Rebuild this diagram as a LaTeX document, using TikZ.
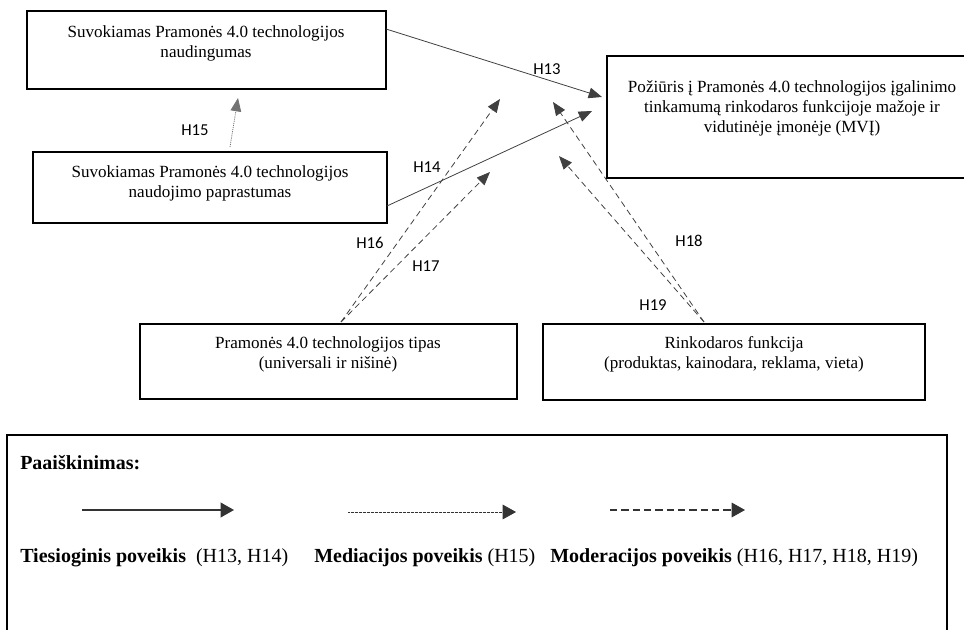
\documentclass[tikz,border=0pt]{standalone}
\usepackage{fontspec}
\setmainfont{Liberation Serif}
\newfontfamily\labelfont{Carlito}
\usetikzlibrary{arrows.meta,fit}
\begin{document}
\begin{tikzpicture}[x=0.75pt,y=-0.75pt,
  box/.style={draw=black, line width=1.1pt, inner sep=0pt},
  boxtext/.style={anchor=north, align=center, inner sep=0pt,
    font=\fontsize{12.8}{15.2}\selectfont},
  hlabel/.style={font=\labelfont\fontsize{12.5}{14}\selectfont, inner sep=0pt},
  tip/.style={-{Triangle[length=10pt,width=8pt]}},
  direct/.style={tip, draw=black!75, line width=0.6pt},
  mediate/.style={tip, draw=black!55, line width=0.6pt, dash pattern=on 0.8pt off 0.8pt},
  moderate/.style={tip, draw=black!75, line width=0.6pt, dash pattern=on 4.5pt off 3pt},
  keytip/.style={-{Triangle[length=10pt,width=11pt]}},
  legtext/.style={anchor=base west, inner sep=0pt, font=\fontsize{15}{17}\selectfont}]
\useasboundingbox (0,0) rectangle (964,630);
\clip (0,0) rectangle (964,630);

% construct boxes
\node[box, fit={(27,11) (386,89)}] (b1) {};
\node[box, fit={(33,152) (387,223)}] (b2) {};
\node[box, fit={(607,56) (980,178)}] (b3) {};
\node[box, fit={(140,324) (517,399)}] (b4) {};
\node[box, fit={(543,324) (925,400)}] (b5) {};

\node[boxtext] (t1) at (206,25) {Suvokiamas Pramonės 4.0 technologijos\\naudingumas};
\node[boxtext] (t2) at (210,165) {Suvokiamas Pramonės 4.0 technologijos\\naudojimo paprastumas};
\node[boxtext] (t3) at (792,80) {Požiūris į Pramonės 4.0 technologijos įgalinimo\\tinkamumą rinkodaros funkcijoje mažoje ir\\vidutinėje įmonėje (MVĮ)};
\node[boxtext] (t4) at (328,336) {Pramonės 4.0 technologijos tipas\\(universali ir nišinė)};
\node[boxtext] (t5) at (734,336) {Rinkodaros funkcija\\(produktas, kainodara, reklama, vieta)};

% connector end points
\coordinate (s13) at (386,29);
\coordinate (e13) at (602,97);
\coordinate (s14) at (387,206);
\coordinate (e14) at (592,111);
\coordinate (s15) at (230,147);
\coordinate (e15) at (238,98);
\coordinate (s16) at (341,322);
\coordinate (e16) at (500,99);
\coordinate (e17) at (490,172);
\coordinate (s18) at (704,322);
\coordinate (e18) at (553,102);
\coordinate (e19) at (559,156);

\draw[direct] (s13) -- (e13);
\draw[direct] (s14) -- (e14);
\draw[mediate] (s15) -- (e15);
\draw[moderate] (s16) -- (e16);
\draw[moderate] (s16) -- (e17);
\draw[moderate] (s18) -- (e18);
\draw[moderate] (s18) -- (e19);

\node[hlabel] (h13) at (547,69) {H13};
\node[hlabel] (h14) at (427,167) {H14};
\node[hlabel] (h15) at (195,130) {H15};
\node[hlabel] (h16) at (370,243) {H16};
\node[hlabel] (h17) at (426,266) {H17};
\node[hlabel] (h18) at (689,241) {H18};
\node[hlabel] (h19) at (653,305) {H19};

% key
\node[box, fit={(7,435) (947,650)}] (key) {};
\node[legtext, font=\bfseries\fontsize{15}{17}\selectfont] (keytitle) at (20,470) {Paaiškinimas:};

\coordinate (la1) at (82,510);
\coordinate (lb1) at (234,510);
\coordinate (la2) at (348,512);
\coordinate (lb2) at (516,512);
\coordinate (la3) at (610,510);
\coordinate (lb3) at (745,510);
\draw[draw=black!80, line width=1.3pt, keytip] (la1) -- (lb1);
\draw[draw=black!80, line width=0.6pt, dash pattern=on 0.6pt off 0.4pt, keytip] (la2) -- (lb2);
\draw[draw=black!80, line width=0.9pt, dash pattern=on 5.5pt off 3pt, keytip] (la3) -- (lb3);

\node[legtext] (k1) at (20,562) {\textbf{Tiesioginis poveikis}\ \ (H13, H14)};
\node[legtext] (k2) at (314,562) {\textbf{Mediacijos poveikis} (H15)};
\node[legtext] (k3) at (550,562) {\textbf{Moderacijos poveikis} (H16, H17, H18, H19)};
\end{tikzpicture}
\end{document}
